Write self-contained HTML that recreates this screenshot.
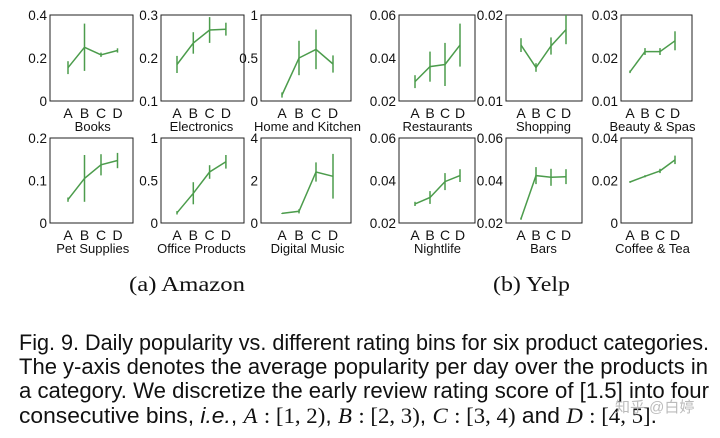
<!DOCTYPE html>
<html><head><meta charset="utf-8"><style>
html,body{margin:0;padding:0;background:#fff;width:720px;height:438px;overflow:hidden}
svg{display:block}
</style></head><body>
<svg id="s" width="720" height="438" xmlns="http://www.w3.org/2000/svg" font-family="Liberation Sans, sans-serif">
<text x="129" y="291" font-family="Liberation Serif, serif" font-size="21" textLength="116" lengthAdjust="spacingAndGlyphs" fill="#111">(a) Amazon</text>
<text x="493" y="291" font-family="Liberation Serif, serif" font-size="21" textLength="77" lengthAdjust="spacingAndGlyphs" fill="#111">(b) Yelp</text>
<g font-size="22" fill="#111">
<text x="19" y="350" textLength="690" lengthAdjust="spacingAndGlyphs">Fig. 9. Daily popularity vs. different rating bins for six product categories.</text>
<text x="19" y="374" textLength="689" lengthAdjust="spacingAndGlyphs">The y-axis denotes the average popularity per day over the products in</text>
<text x="19" y="398" textLength="690" lengthAdjust="spacingAndGlyphs">a category. We discretize the early review rating score of [1.5] into four</text>
<text x="19" y="423" textLength="638" lengthAdjust="spacingAndGlyphs">consecutive bins, <tspan font-style="italic">i.e.</tspan>, <tspan font-family="Liberation Serif, serif" font-style="italic">A</tspan> <tspan font-family="Liberation Serif, serif">: [1, 2)</tspan>, <tspan font-family="Liberation Serif, serif" font-style="italic">B</tspan> <tspan font-family="Liberation Serif, serif">: [2, 3)</tspan>, <tspan font-family="Liberation Serif, serif" font-style="italic">C</tspan> <tspan font-family="Liberation Serif, serif">: [3, 4)</tspan> and <tspan font-family="Liberation Serif, serif" font-style="italic">D</tspan> <tspan font-family="Liberation Serif, serif">: [4, 5]</tspan>.</text>
</g>
<text x="615" y="412" font-size="15" fill="#bbb" font-family="Liberation Sans, Noto Sans CJK SC, sans-serif">知乎 @白婷</text>
</svg>
<script>
var P=[
[50,133,15,101,0,0.4,["0","0.2","0.4"],18,16.5,"Books",[[.155,.03],[.25,.11],[.215,.01],[.235,.01]]],
[161,244,15,101,.1,.3,["0.1","0.2","0.3"],16,16.3,"Electronics",[[.185,.02],[.235,.025],[.265,.03],[.267,.015]]],
[261,351,15,101,0,1,["0","0.5","1"],21,17,"Home and Kitchen",[[.07,.03],[.5,.2],[.6,.23],[.43,.1]]],
[50,133,138,223,0,.2,["0","0.1","0.2"],18,16.5,"Pet Supplies",[[.055,.005],[.105,.055],[.137,.025],[.147,.018]]],
[161,244,138,223,0,1,["0","0.5","1"],16,16.3,"Office Products",[[.12,.02],[.35,.13],[.6,.08],[.72,.08]]],
[261,351,138,223,0,4,["0","2","4"],21,17,"Digital Music",[[.45,.02],[.55,.1],[2.4,.45],[2.2,1.05]]],
[399,475,15,101,.02,.06,["0.02","0.04","0.06"],16,15,"Restaurants",[[.029,.003],[.036,.007],[.037,.01],[.046,.01]]],
[506,582,15,101,.01,.02,["0.01","","0.02"],15,15,"Shopping",[[.0165,.0008],[.0139,.0005],[.0164,.001],[.0183,.0017]]],
[621,692,15,101,.01,.03,["0.01","0.02","0.03"],9,15,"Beauty & Spas",[[.0168,.0003],[.0215,.0008],[.0215,.0008],[.024,.0022]]],
[399,475,138,223,.02,.06,["0.02","0.04","0.06"],16,15,"Nightlife",[[.029,.001],[.032,.003],[.0395,.004],[.0423,.003]]],
[506,582,138,223,.02,.06,["0.02","0.04","0.06"],15,15,"Bars",[[.022,.0005],[.0423,.004],[.0415,.004],[.0418,.0035]]],
[621,692,138,223,0,.04,["0","0.02","0.04"],9,15,"Coffee & Tea",[[.0193,.0004],[.022,.0005],[.0245,.001],[.0297,.002]]]
];
var h="",G="#4c9c4c";
P.forEach(function(p){
var x0=p[0],x1=p[1],y0=p[2],y1=p[3],mn=p[4],mx=p[5];
function Y(v){return y1-(v-mn)/(mx-mn)*(y1-y0);}
h+='<rect x="'+x0+'" y="'+y0+'" width="'+(x1-x0)+'" height="'+(y1-y0)+'" fill="none" stroke="#222" stroke-width="1"/>';
p[6].forEach(function(t,i){if(!t)return;var yy=y1-i*(y1-y0)/2;h+='<text x="'+(x0-3)+'" y="'+(yy+5)+'" font-size="13.5" text-anchor="end" fill="#111">'+t+'</text>';});
var pts=[];
p[10].forEach(function(d,i){var x=x0+p[7]+i*p[8];pts.push(x+","+Y(d[0]).toFixed(1));
h+='<line x1="'+x+'" x2="'+x+'" y1="'+Y(d[0]-d[1]).toFixed(1)+'" y2="'+Math.max(y0,Y(d[0]+d[1])).toFixed(1)+'" stroke="'+G+'" stroke-width="1.5"/>';
h+='<text x="'+x+'" y="'+(y1+17)+'" font-size="14" text-anchor="middle" fill="#111">'+"ABCD"[i]+'</text>';});
h+='<polyline points="'+pts.join(" ")+'" fill="none" stroke="'+G+'" stroke-width="1.5"/>';
var cx=x0+p[7]+1.5*p[8];
h+='<text x="'+cx+'" y="'+(y1+30)+'" font-size="13" text-anchor="middle" fill="#111">'+p[9].replace("&","&amp;")+'</text>';
});
document.getElementById("s").insertAdjacentHTML("beforeend",h);
</script>
</body></html>
